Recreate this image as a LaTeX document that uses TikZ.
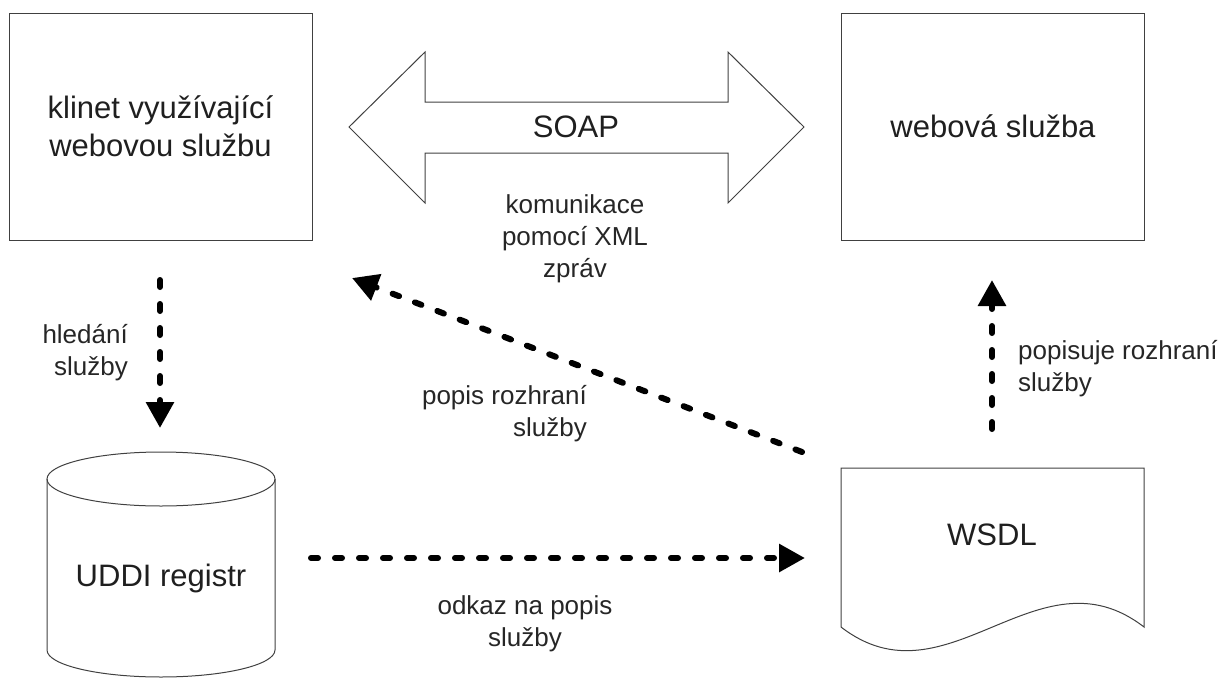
\documentclass[tikz,border=0pt]{standalone}
\usepackage{fontspec}
\setmainfont{Liberation Sans}
\usetikzlibrary{arrows.meta}
\newcommand\bigtxtfont{\fontsize{31}{38}\selectfont}
\newcommand\lbltxtfont{\fontsize{26}{32}\selectfont}
\begin{document}
\begin{tikzpicture}[x=1pt,y=-1pt,
  outline/.style={draw=black!75, line width=1pt},
  box/.style={outline, minimum width=303pt, minimum height=227pt, align=center, font=\bigtxtfont, text=black!88},
  big/.style={font=\bigtxtfont, text=black!88, inner sep=0pt, align=center},
  lbl/.style={font=\lbltxtfont, text=black!85, inner sep=0pt},
  flow/.style={line width=6pt, dash pattern=on 7pt off 17pt, line cap=round, -{Triangle[length=26pt,width=27pt]}},
]
\useasboundingbox (0,0) rectangle (1227,678);

% boxes
\node[box] (client) at (160.5,126.5) {klinet využívající\\webovou službu};
\node[box] (service) at (993,126.5) {webová služba};

% SOAP double arrow
\draw[outline] (349,127) -- (425,52) -- (425,102) -- (728,102) -- (728,52) -- (804,127)
  -- (728,203) -- (728,153) -- (425,153) -- (425,203) -- cycle;
\node[big] (soap) at (576,127) {SOAP};
\node[lbl, align=center] (xml) at (575,239) {komunikace\\pomocí XML\\zpráv};

% UDDI cylinder
\draw[outline] (47,479) -- (47,650) arc[start angle=180, end angle=0, x radius=114, y radius=27] -- (275,479);
\draw[outline] (161,479) ellipse[x radius=114, y radius=27];
\node[big] (uddi) at (161,578) {UDDI registr};

% WSDL document
\draw[outline] (841,468) -- (1144,468) -- (1144,627) .. controls (1038,545) and (947,709) .. (841,627) -- cycle;
\node[big] (wsdl) at (992,535) {WSDL};

% connector ends
\coordinate (c1) at (160,280);
\coordinate (u1) at (160,428);
\coordinate (u2) at (311,558);
\coordinate (w1) at (805,558);
\coordinate (w2) at (802,452);
\coordinate (c2) at (352,278);
\coordinate (w3) at (992,429);
\coordinate (s1) at (992,280);

\draw[flow] (c1) -- (u1);
\draw[flow] (u2) -- (w1);
\draw[flow] (w2) -- (c2);
\draw[flow] (w3) -- (s1);

% labels
\node[lbl, align=right, anchor=east] (l1) at (128,353) {hledání\\služby};
\node[lbl, align=left, anchor=west] (l2) at (1018,369) {popisuje rozhraní\\služby};
\node[lbl, align=right, anchor=east] (l3) at (587,414) {popis rozhraní\\služby};
\node[lbl, align=center] (l4) at (525,624) {odkaz na popis\\služby};
\end{tikzpicture}
\end{document}
